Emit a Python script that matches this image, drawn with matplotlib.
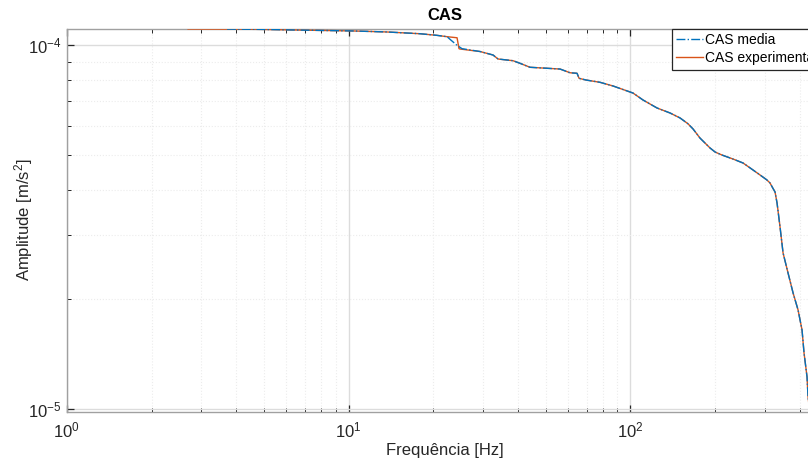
import numpy as np
import matplotlib
matplotlib.use("Agg")
import matplotlib.pyplot as plt
from matplotlib.ticker import LogLocator, NullFormatter

#fonts, arial-like
plt.rcParams['font.family'] = ['Liberation Sans', 'DejaVu Sans']
plt.rcParams['mathtext.fontset'] = 'custom'
plt.rcParams['mathtext.rm'] = 'Liberation Sans'
plt.rcParams['mathtext.it'] = 'Liberation Sans:italic'
plt.rcParams['mathtext.bf'] = 'Liberation Sans:bold'

#data
freq_exp = [2.695, 3.7, 4.85, 6.73, 10.37, 13.70, 17.94, 20.61, 22.37, 24.27, 24.66,
            24.87, 29.29, 32.57, 33.92, 38.34, 40.61, 44.06, 56.31, 61.09, 64.7, 65.77,
            69.63, 78.06, 86.8, 102.2, 110.9, 124.4, 138.3, 150.1, 160.0, 167.0, 176.7,
            191.8, 200.0, 211.5, 231.4, 251.2, 272.5, 288.6, 305.0, 313.1, 320.0, 326.2,
            331.6, 339.8, 348.3, 362.8, 378.0, 393.7, 406.7, 413.4, 423.7, 427.2, 441.4]
amp_exp = [1.107e-4, 1.106e-4, 1.104e-4, 1.099e-4, 1.093e-4, 1.086e-4, 1.074e-4,
           1.063e-4, 1.054e-4, 1.047e-4, 0.977e-4, 0.975e-4, 0.9597e-4, 0.9387e-4,
           0.9153e-4, 0.9055e-4, 0.8906e-4, 0.8686e-4, 0.859e-4, 0.839e-4, 0.8362e-4,
           0.8100e-4, 0.8013e-4, 0.7898e-4, 0.7717e-4, 0.738e-4, 0.7062e-4, 0.6713e-4,
           0.6505e-4, 0.6303e-4, 0.608e-4, 0.5877e-4, 0.555e-4, 0.5212e-4, 0.508e-4,
           0.4985e-4, 0.4861e-4, 0.474e-4, 0.4535e-4, 0.4394e-4, 0.426e-4, 0.4177e-4,
           0.405e-4, 0.3946e-4, 0.368e-4, 0.3162e-4, 0.2683e-4, 0.2363e-4, 0.2083e-4,
           0.1871e-4, 0.1648e-4, 0.1425e-4, 0.1224e-4, 0.1079e-4, 0.0876e-4]

freq_media = [3.706, 4.85, 6.73, 10.37, 13.70, 17.94, 20.61, 22.37, 23.07, 24.27, 25.28,
              29.29, 32.57, 33.92, 38.34, 40.61, 44.06, 56.31, 61.09, 64.7, 65.77,
              69.63, 78.06, 86.8, 102.2, 110.9, 124.4, 138.3, 150.1, 160.0, 167.0, 176.7,
              191.8, 200.0, 211.5, 231.4, 251.2, 272.5, 288.6, 305.0, 313.1, 320.0, 326.2,
              331.6, 339.8, 348.3, 362.8, 378.0, 393.7, 406.7, 413.4, 423.7, 427.2, 441.4]
amp_media = [1.106e-4, 1.104e-4, 1.099e-4, 1.093e-4, 1.086e-4, 1.074e-4, 1.063e-4,
             1.054e-4, 1.032e-4, 0.998e-4, 0.977e-4, 0.9597e-4, 0.9387e-4, 0.9153e-4,
             0.9055e-4, 0.8906e-4, 0.8686e-4, 0.859e-4, 0.839e-4, 0.8362e-4, 0.8100e-4,
             0.8013e-4, 0.7898e-4, 0.7717e-4, 0.738e-4, 0.7062e-4, 0.6713e-4, 0.6505e-4,
             0.6303e-4, 0.608e-4, 0.5877e-4, 0.555e-4, 0.5212e-4, 0.508e-4, 0.4985e-4,
             0.4861e-4, 0.474e-4, 0.4535e-4, 0.4394e-4, 0.426e-4, 0.4177e-4, 0.405e-4,
             0.3946e-4, 0.368e-4, 0.3162e-4, 0.2683e-4, 0.2363e-4, 0.2083e-4, 0.1871e-4,
             0.1648e-4, 0.1425e-4, 0.1224e-4, 0.1079e-4, 0.0876e-4]

labels = ['CAS media', 'CAS experimental']

#figure, axes goes a bit past the right edge like the original
fig = plt.figure(figsize=(8.08, 4.63), dpi=100)
ax = fig.add_axes([0.0826, 0.1102, 0.9348, 0.8282])

l1, = ax.loglog(freq_media, amp_media, linestyle='-.', color='#0072BD', lw=1.0, zorder=4)
l2, = ax.loglog(freq_exp, amp_exp, linestyle='-', color='#D95319', lw=1.0, zorder=3)

ax.set_xlim(1, 479)
ax.set_ylim(0.981e-5, 1.11e-4)

#grid like matlab
ax.grid(True, which='major', color='#dcdcdc', lw=1.0, linestyle='-')
ax.grid(True, which='minor', color='#ececec', lw=0.8, linestyle=':')
ax.set_axisbelow(True)

ax.xaxis.set_major_locator(LogLocator(base=10, numticks=10))
ax.xaxis.set_minor_locator(LogLocator(base=10, subs=np.arange(2, 10), numticks=10))
ax.yaxis.set_major_locator(LogLocator(base=10, numticks=10))
ax.yaxis.set_minor_locator(LogLocator(base=10, subs=np.arange(2, 10), numticks=10))
ax.xaxis.set_minor_formatter(NullFormatter())
ax.yaxis.set_minor_formatter(NullFormatter())

ax.tick_params(which='both', direction='in', top=True, right=True, color='#262626',
               labelcolor='#262626', labelsize=12)
ax.tick_params(which='major', length=5, width=0.9)
ax.tick_params(which='minor', length=2.6, width=0.7)
ax.tick_params(axis='x', which='major', pad=6)
ax.tick_params(axis='y', which='major', pad=4)

for sp in ax.spines.values():
    sp.set_color('#a0a0a0')
    sp.set_linewidth(1.0)

ax.set_title('CAS', fontsize=12, fontweight='bold', color='black', pad=6)
ax.set_xlabel('Frequência [Hz]', fontsize=12, color='#262626', labelpad=2)
ax.set_ylabel('Amplitude [m/s$^2$]', fontsize=12, color='#262626')
ax.yaxis.set_label_coords(-0.042, 0.5)

leg = ax.legend([l1, l2], labels, loc='upper left', bbox_to_anchor=(672 / 808, 1 - 29 / 463),
                bbox_transform=fig.transFigure, borderaxespad=0, fontsize=10,
                fancybox=False, framealpha=1, edgecolor='#262626', handlelength=1.9,
                handletextpad=0.15, labelspacing=0.3, borderpad=0.3)
leg.get_frame().set_linewidth(0.9)

fig.savefig('out.png', dpi=100)
